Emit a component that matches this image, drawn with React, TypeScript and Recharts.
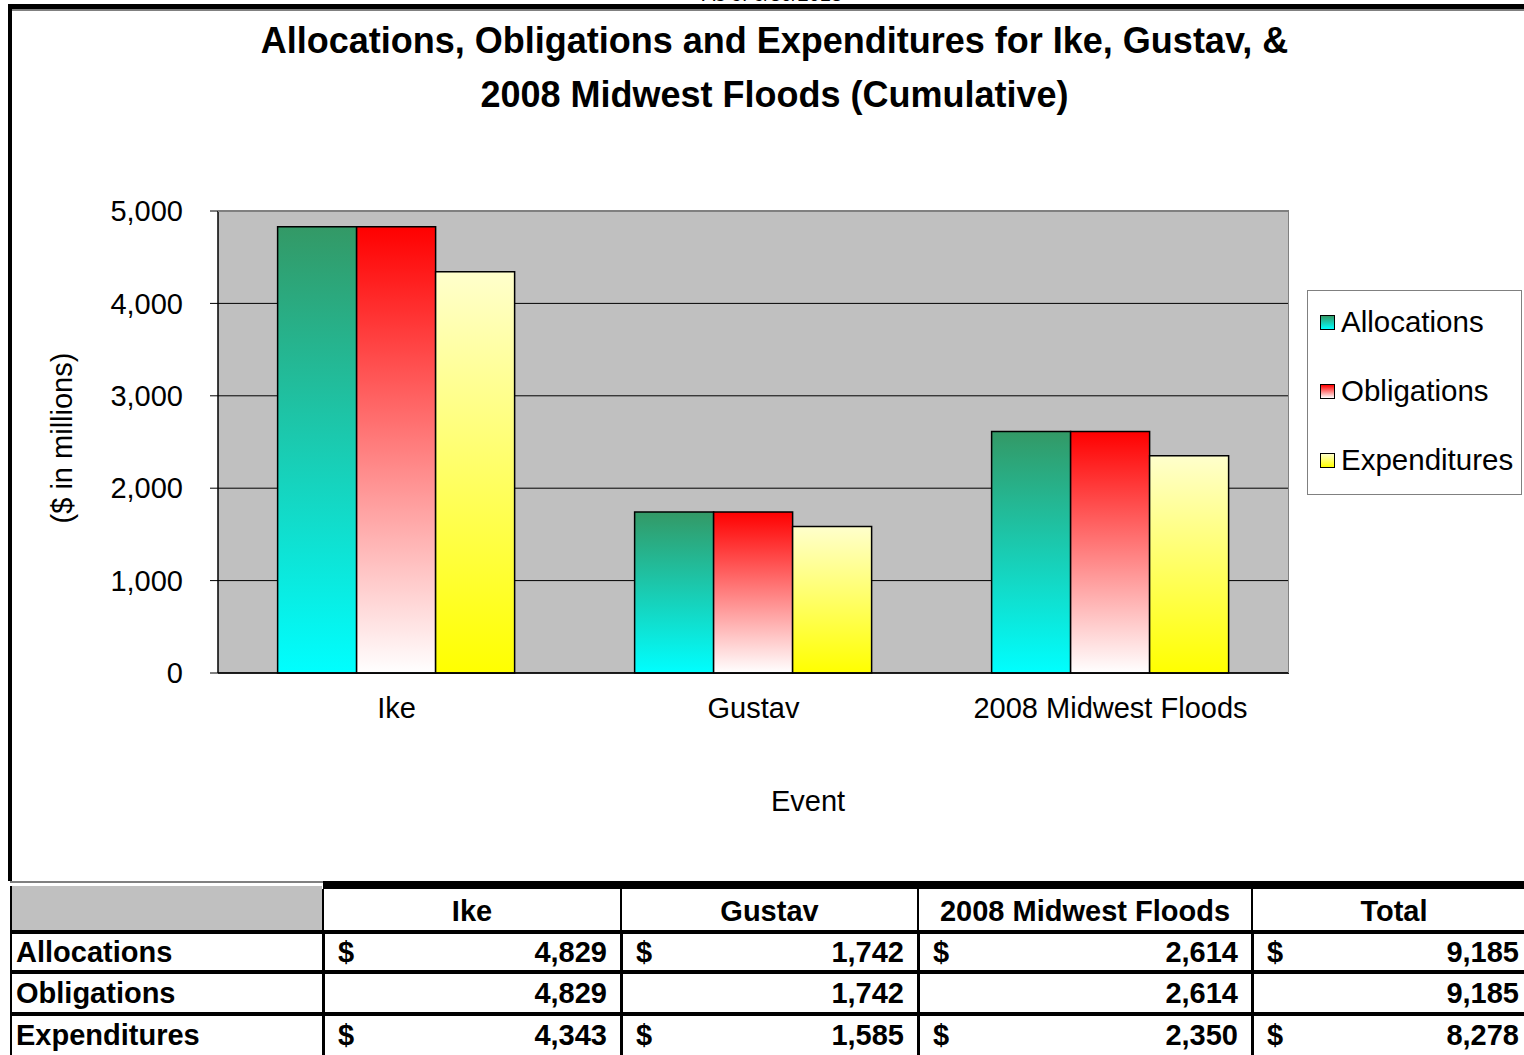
import React from 'react';
import { BarChart, Bar, XAxis, YAxis, CartesianGrid } from 'recharts';

const categories = ['Ike', 'Gustav', '2008 Midwest Floods'];
const allocations = [4829, 1742, 2614];
const obligations = [4829, 1742, 2614];
const expenditures = [4343, 1585, 2350];
const yTicks = [0, 1000, 2000, 3000, 4000, 5000];
const edgeTicks = [0, 1, 2, 3];
const seriesNames = ['Allocations', 'Obligations', 'Expenditures'];
const seriesKeys = ['alloc', 'obl', 'exp'];
const gradTop = ['#339966', '#FF0000', '#FFFFCC'];
const gradBottom = ['#00FFFF', '#FFFFFF', '#FFFF00'];
const tableHeaders = ['Ike', 'Gustav', '2008 Midwest Floods', 'Total'];

const data = categories.map((c, i) => ({
  name: c,
  alloc: allocations[i],
  obl: obligations[i],
  exp: expenditures[i],
}));

const seriesValues = [allocations, obligations, expenditures];
const tableRows = seriesNames.map((n, r) => {
  const vals = seriesValues[r];
  const total = vals.reduce((a, b) => a + b, 0);
  return { name: n, values: [...vals, total], dollar: r !== 1 };
});

const FONT = '"Liberation Sans", Arial, Helvetica, sans-serif';
const fmt = (v: number) => v.toLocaleString('en-US');

const colEdges = [10, 323, 621, 918, 1252, 1524];
const rowTop = [934, 974, 1016];
const rowBottom = [970, 1012, 1055];

export default function App() {
  return (
    <div
      style={{
        position: 'absolute',
        left: 0,
        top: 0,
        width: 1524,
        height: 1055,
        overflow: 'hidden',
        background: '#fff',
        fontFamily: FONT,
      }}
    >
      {/* cut-off date */}
      <div
        style={{
          position: 'absolute',
          left: 0,
          width: 1544,
          top: -17,
          textAlign: 'center',
          fontSize: 20,
          color: '#000',
        }}
      >
        As of 6/30/2013
      </div>
      {/* frame */}
      <div style={{ position: 'absolute', left: 8, top: 4, width: 1516, height: 5, background: '#000' }} />
      <div style={{ position: 'absolute', left: 8, top: 9, width: 1516, height: 2, background: '#808080' }} />
      <div style={{ position: 'absolute', left: 8, top: 4, width: 4, height: 877, background: '#000' }} />

      {/* title */}
      <div
        style={{
          position: 'absolute',
          left: 0,
          width: 1549,
          top: 14,
          textAlign: 'center',
          fontSize: 36,
          fontWeight: 'bold',
          lineHeight: '54px',
          color: '#000',
        }}
      >
        Allocations, Obligations and Expenditures for Ike, Gustav, &amp;
        <br />
        2008 Midwest Floods (Cumulative)
      </div>

      <div style={{ position: 'absolute', left: 0, top: 0 }}>
        <BarChart
          width={1524}
          height={880}
          data={data}
          margin={{ top: 211, right: 235, bottom: 147, left: 0 }}
          barGap={0}
          barCategoryGap="16.7%"
        >
          <defs>
            {seriesKeys.map((k, i) => (
              <linearGradient key={k} id={`grad-${k}`} x1="0" y1="0" x2="0" y2="1">
                <stop offset="0%" stopColor={gradTop[i]} />
                <stop offset="100%" stopColor={gradBottom[i]} />
              </linearGradient>
            ))}
          </defs>
          <CartesianGrid
            vertical={false}
            fill="#C0C0C0"
            fillOpacity={1}
            stroke="#000"
            strokeWidth={1}
            horizontalValues={yTicks}
          />
          <XAxis
            xAxisId="edge"
            type="number"
            domain={[0, 3]}
            ticks={edgeTicks}
            tick={false}
            tickLine={{ stroke: '#000' }}
            tickSize={8}
            axisLine={false}
            height={0}
            allowDataOverflow
          />
          <XAxis
            xAxisId="cat"
            dataKey="name"
            tickLine={false}
            tickSize={0}
            tickMargin={24}
            axisLine={{ stroke: '#000', strokeWidth: 1.5 }}
            height={60}
            tick={{ fill: '#000', fontSize: 29, fontFamily: FONT }}
          />
          <YAxis
            width={218}
            domain={[0, 5000]}
            ticks={yTicks}
            interval={0}
            tickSize={8}
            tickMargin={27}
            tickFormatter={(v: number) => fmt(v)}
            axisLine={{ stroke: '#000', strokeWidth: 1.5 }}
            tickLine={{ stroke: '#000' }}
            tick={{ fill: '#000', fontSize: 29, fontFamily: FONT }}
          />
          {seriesKeys.map((k, i) => (
            <Bar
              key={k}
              xAxisId="cat"
              dataKey={k}
              name={seriesNames[i]}
              fill={`url(#grad-${k})`}
              stroke="#000"
              strokeWidth={1.5}
              isAnimationActive={false}
            />
          ))}
        </BarChart>
      </div>

      {/* plot border top/right */}
      <div
        style={{
          position: 'absolute',
          left: 218,
          top: 211,
          width: 1071,
          height: 462,
          borderTop: '1.5px solid #808080',
          borderRight: '1.5px solid #808080',
          boxSizing: 'border-box',
          pointerEvents: 'none',
        }}
      />

      {/* y axis label */}
      <div
        style={{
          position: 'absolute',
          left: 62,
          top: 438,
          transform: 'translate(-50%, -50%) rotate(-90deg)',
          fontSize: 29,
          whiteSpace: 'nowrap',
          color: '#000',
        }}
      >
        ($ in millions)
      </div>

      {/* x axis title */}
      <div
        style={{
          position: 'absolute',
          left: 808,
          top: 801,
          transform: 'translate(-50%, -50%)',
          fontSize: 29,
          color: '#000',
        }}
      >
        Event
      </div>

      {/* legend */}
      <div
        style={{
          position: 'absolute',
          left: 1307,
          top: 290,
          width: 215,
          height: 205,
          border: '1px solid #808080',
          boxSizing: 'border-box',
          background: '#fff',
        }}
      >
        {seriesNames.map((n, i) => (
          <div
            key={n}
            style={{
              position: 'absolute',
              left: 12,
              top: 16 + i * 69,
              height: 30,
              display: 'flex',
              alignItems: 'center',
              fontSize: 29.5,
              color: '#000',
              whiteSpace: 'nowrap',
            }}
          >
            <span
              style={{
                display: 'inline-block',
                width: 15,
                height: 15,
                border: '1.5px solid #000',
                boxSizing: 'border-box',
                background: `linear-gradient(${gradTop[i]}, ${gradBottom[i]})`,
                marginRight: 6,
              }}
            />
            {n}
          </div>
        ))}
      </div>

      {/* table */}
      <div style={{ position: 'absolute', left: 10, top: 881, width: 313, height: 2, background: '#808080' }} />
      <div style={{ position: 'absolute', left: 323, top: 881, width: 1201, height: 8, background: '#000' }} />
      <div style={{ position: 'absolute', left: 12, top: 886, width: 310, height: 44, background: '#C0C0C0' }} />
      {[930, 970, 1012].map((y) => (
        <div key={y} style={{ position: 'absolute', left: 10, top: y, width: 1514, height: 4, background: '#000' }} />
      ))}
      <div style={{ position: 'absolute', left: 10, top: 886, width: 2, height: 169, background: '#000' }} />
      {colEdges.slice(1, 5).map((x) => (
        <React.Fragment key={x}>
          <div style={{ position: 'absolute', left: x - 1, top: 889, width: 2, height: 41, background: '#000' }} />
          <div style={{ position: 'absolute', left: x - 1, top: 934, width: 3, height: 121, background: '#000' }} />
        </React.Fragment>
      ))}
      {tableHeaders.map((h, c) => (
        <div
          key={h}
          style={{
            position: 'absolute',
            left: colEdges[c + 1],
            width: (c === 3 ? 1536 : colEdges[c + 2]) - colEdges[c + 1],
            top: 891,
            height: 41,
            display: 'flex',
            alignItems: 'center',
            justifyContent: 'center',
            fontSize: 29,
            fontWeight: 'bold',
            color: '#000',
          }}
        >
          {h}
        </div>
      ))}
      {tableRows.map((row, r) => (
        <React.Fragment key={row.name}>
          <div
            style={{
              position: 'absolute',
              left: 16,
              top: rowTop[r],
              height: rowBottom[r] - rowTop[r],
              display: 'flex',
              alignItems: 'center',
              fontSize: 29,
              fontWeight: 'bold',
              color: '#000',
            }}
          >
            {row.name}
          </div>
          {row.values.map((v, c) => (
            <div
              key={c}
              style={{
                position: 'absolute',
                left: colEdges[c + 1] + 15,
                width: colEdges[c + 2] - colEdges[c + 1] - 15 - (c === 3 ? 5 : 14),
                top: rowTop[r],
                height: rowBottom[r] - rowTop[r],
                display: 'flex',
                alignItems: 'center',
                justifyContent: 'space-between',
                fontSize: 29,
                fontWeight: 'bold',
                color: '#000',
              }}
            >
              <span>{row.dollar ? '$' : ''}</span>
              <span>{fmt(v)}</span>
            </div>
          ))}
        </React.Fragment>
      ))}
    </div>
  );
}
